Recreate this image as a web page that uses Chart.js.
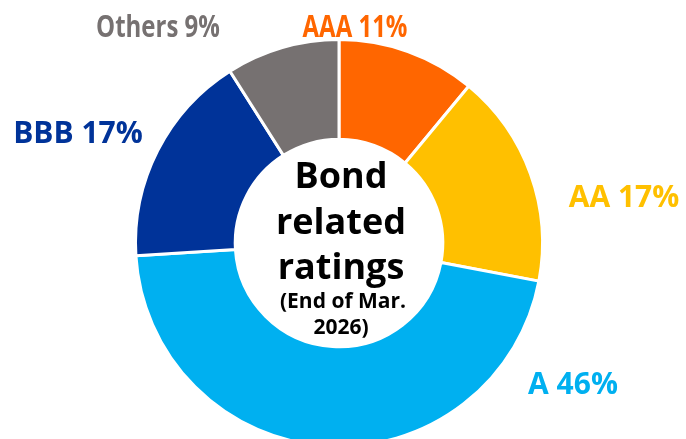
<!DOCTYPE html>
<html>
<head>
<meta charset="utf-8">
<script src="https://cdn.jsdelivr.net/npm/chart.js@4"></script>
<style>
  html, body { margin: 0; padding: 0; background: #fff; overflow: hidden; }
  #wrap { position: absolute; left: 0; top: 0; width: 686px; height: 460px; }
</style>
</head>
<body>
<div id="wrap"><canvas id="rating-chart" width="686" height="460"></canvas></div>
<script>
// ratings share, clockwise from 12 o'clock
const ratings = ['AAA', 'AA', 'A', 'BBB', 'Others']
const shares = [11, 17, 46, 17, 9]
const colors = ['#FF6600', '#FFC000', '#00B0F0', '#003399', '#767171']
const centerLines = ['Bond', 'related', 'ratings']
const centerNote = ['(End of Mar.', '2026)']

// where each outside label sits, px from the donut centre
const labelOffsets = [[16, -215], [285, -45], [234, 142], [-261, -109], [-181, -215]]
// the two top labels are squeezed in the original
const labelStretch = [0.8, 1, 1, 1, 0.8]

const outsideLabels = {
    id: 'outsideLabels',
    afterDraw(chart) {
        const ctx = chart.ctx
        const arc = chart.getDatasetMeta(0).data[0]
        const cx = arc.x, cy = arc.y
        ctx.save()
        ctx.textAlign = 'center'
        ctx.textBaseline = 'middle'
        ctx.font = 'bold 30px "Open Sans"'
        ratings.forEach((r, i) => {
            ctx.save()
            ctx.fillStyle = colors[i]
            ctx.translate(cx + labelOffsets[i][0], cy + labelOffsets[i][1])
            ctx.scale(labelStretch[i], 1)
            ctx.fillText(`${r} ${shares[i]}%`, 0, 0)
            ctx.restore()
        })

        // centre caption
        ctx.fillStyle = '#000'
        ctx.font = 'bold 36px "Open Sans"'
        ctx.textBaseline = 'alphabetic'
        let y = cy - 55
        centerLines.forEach(t => {
            ctx.fillText(t, cx + 2, y)
            y += 45.5
        })
        ctx.font = 'bold 21px "Open Sans"'
        ctx.fillText(centerNote[0], cx + 4, cy + 65)
        ctx.fillText(centerNote[1], cx + 2, cy + 91)
        ctx.restore()
    }
}

const data = {
    labels: ratings,
    datasets: [{
        data: shares,
        backgroundColor: colors,
        borderColor: '#ffffff',
        borderWidth: 3
    }]
}

const config = {
    type: 'doughnut',
    data: data,
    options: {
        responsive: false,
        animation: false,
        cutout: '51%',
        layout: { padding: { top: 38, bottom: 12, left: 0, right: 8 } },
        plugins: {
            legend: { display: false },
            tooltip: { enabled: false }
        }
    },
    plugins: [outsideLabels]
}

const rating_chart = new Chart(
    document.getElementById('rating-chart').getContext('2d'),
    config
)
</script>
</body>
</html>
